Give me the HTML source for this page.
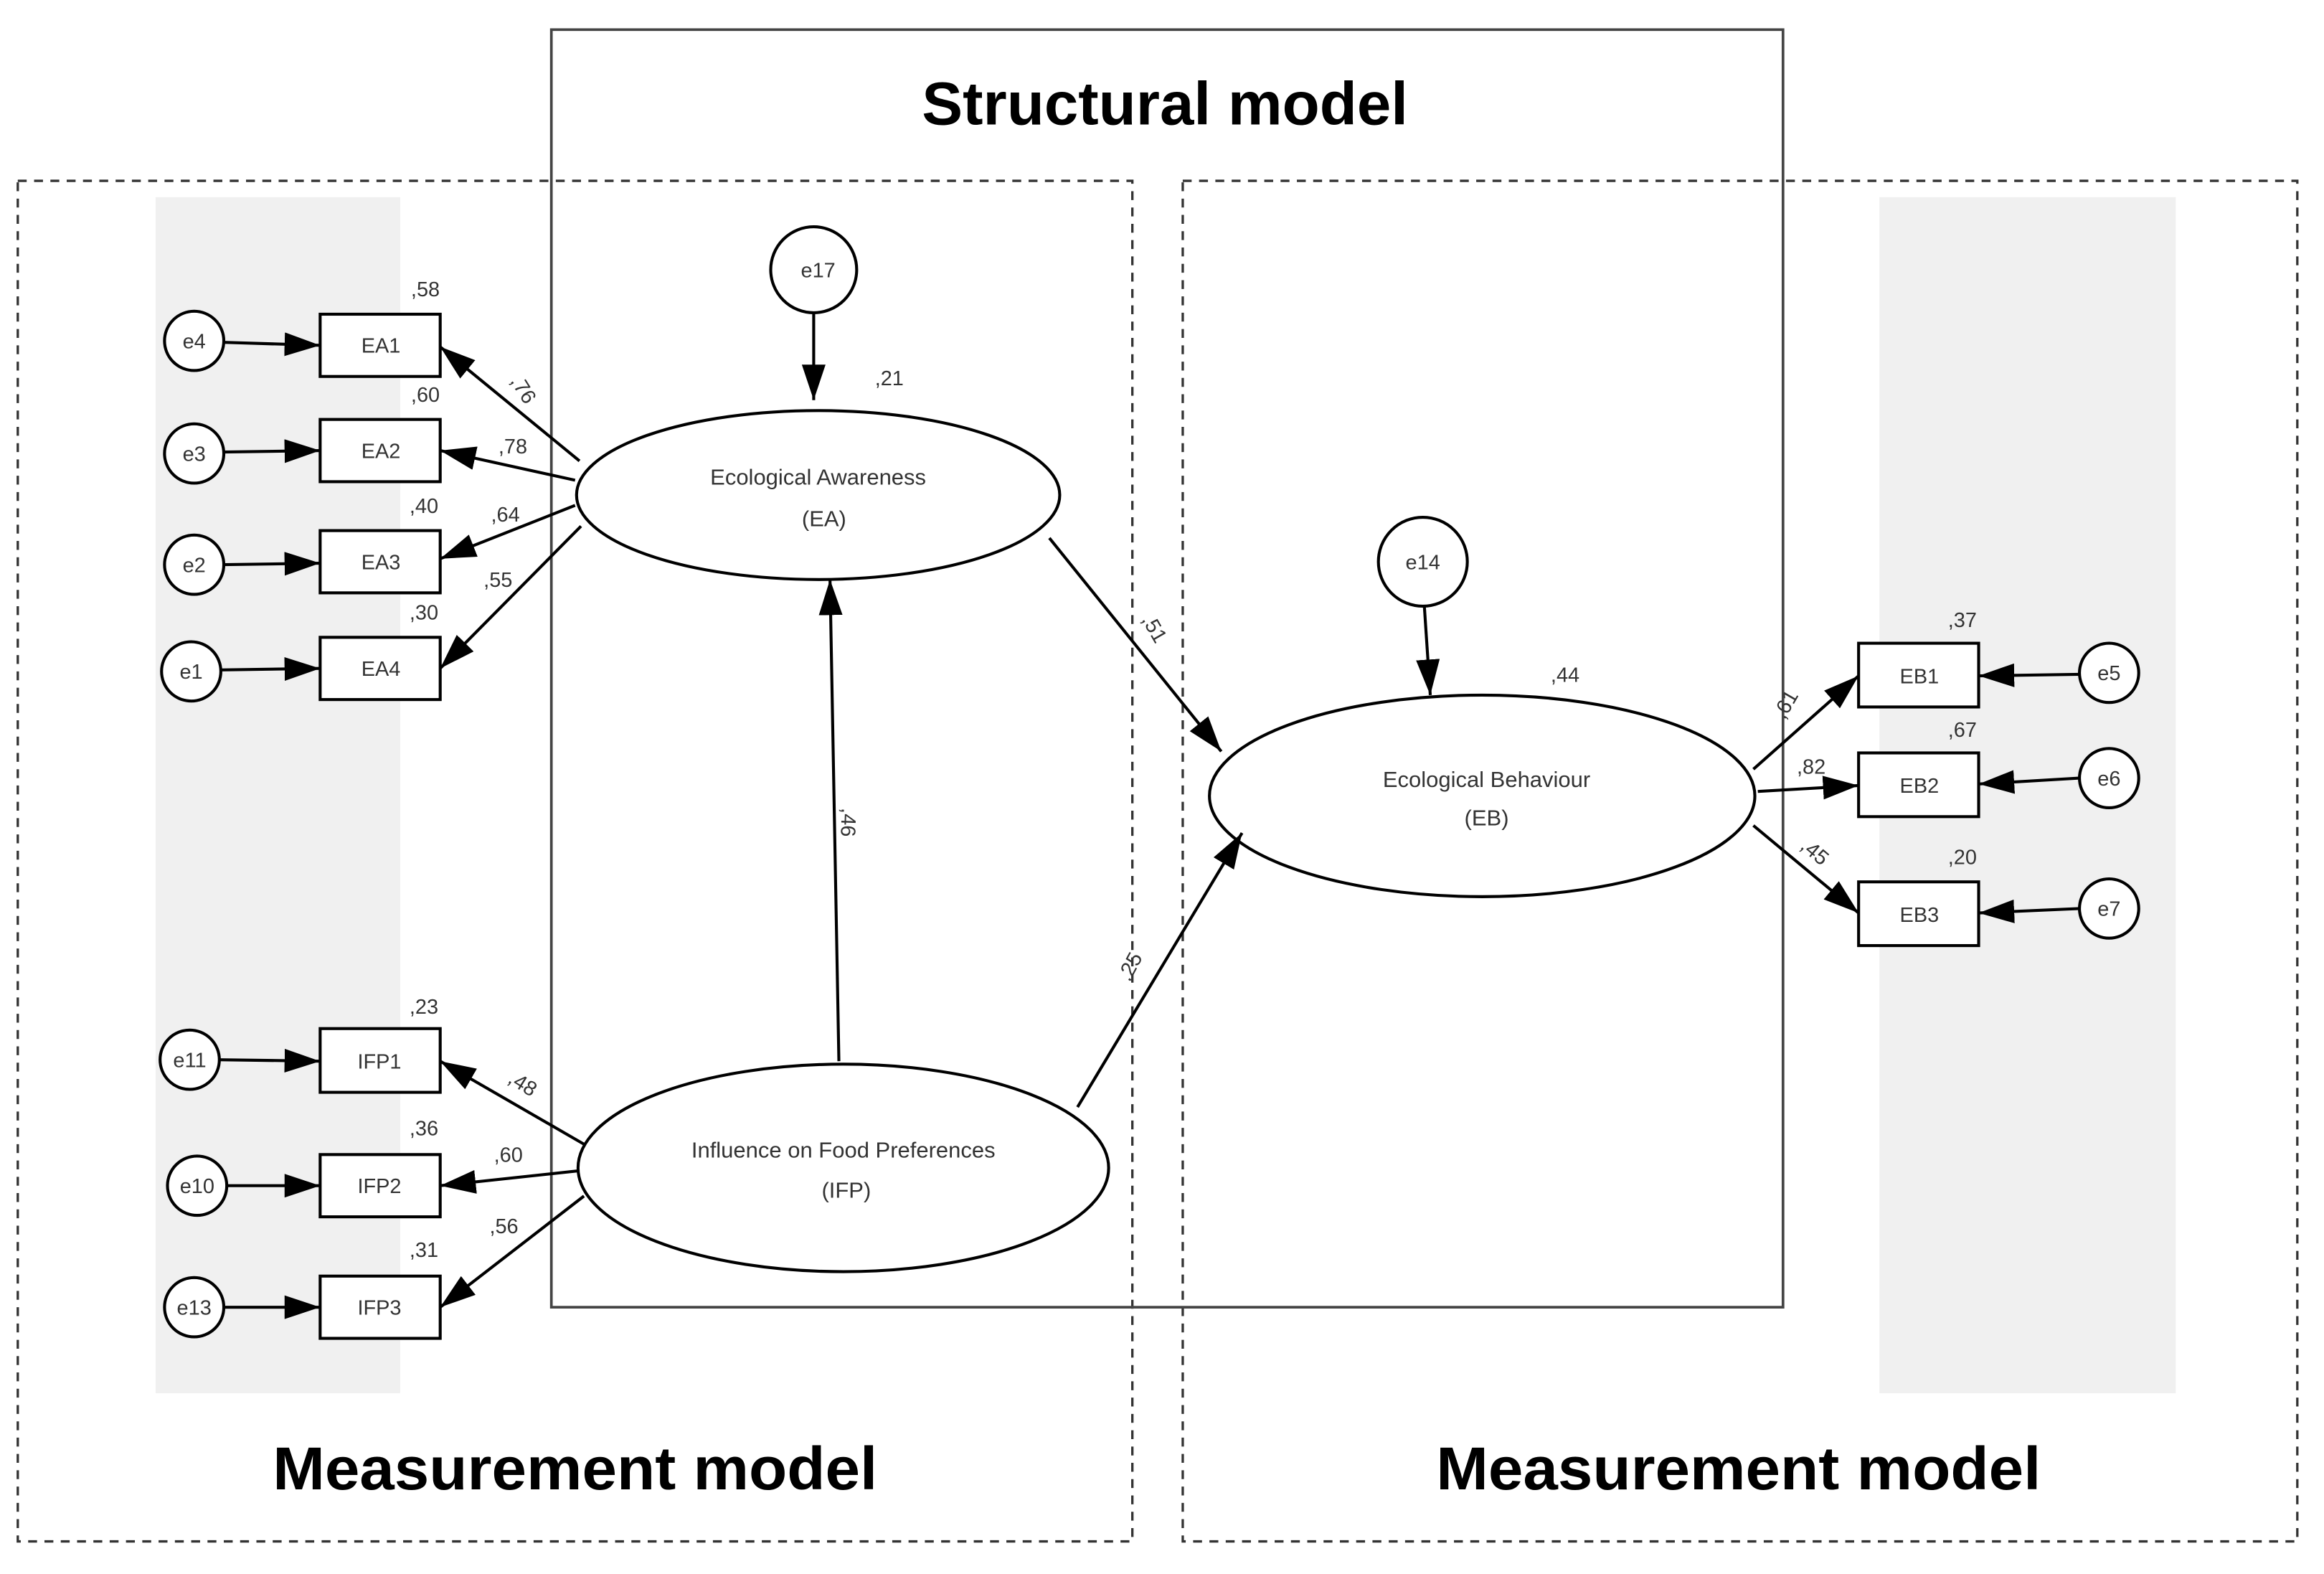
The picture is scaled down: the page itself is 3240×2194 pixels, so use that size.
<!DOCTYPE html>
<html><head><meta charset="utf-8"><style>
html,body{margin:0;padding:0;background:#fff;}
svg{display:block;}
text{font-family:"Liberation Sans",Arial,sans-serif;fill:#333;}
.s{font-size:14px;}
.l{font-size:15px;fill:#444;}
.b{font-size:41px;font-weight:bold;fill:#000;}
</style></head><body>
<svg width="3240" height="2194" viewBox="0 0 1568 1062" preserveAspectRatio="none" xmlns="http://www.w3.org/2000/svg">
<defs>
<marker id="h" viewBox="0 0 24 16" refX="24" refY="8" markerWidth="24" markerHeight="16" markerUnits="userSpaceOnUse" orient="auto"><path d="M0,0 L24,8 L0,16 z" fill="#000"/></marker>
</defs>
<rect x="105" y="133" width="165" height="807" fill="#f0f0f0"/>
<rect x="1268" y="133" width="200" height="807" fill="#f0f0f0"/>
<rect x="12" y="122" width="752" height="918" fill="none" stroke="#333" stroke-width="1.6" stroke-dasharray="6,5"/>
<rect x="798" y="122" width="752" height="918" fill="none" stroke="#333" stroke-width="1.6" stroke-dasharray="6,5"/>
<rect x="372" y="20" width="831" height="862" fill="none" stroke="#444" stroke-width="1.8"/>
<text x="786" y="84" class="b" text-anchor="middle" textLength="328" lengthAdjust="spacingAndGlyphs">Structural model</text>
<text x="388" y="1005" class="b" text-anchor="middle" textLength="408" lengthAdjust="spacingAndGlyphs">Measurement model</text>
<text x="1173" y="1005" class="b" text-anchor="middle" textLength="408" lengthAdjust="spacingAndGlyphs">Measurement model</text>

<g stroke="#000" stroke-width="2" fill="#fff">
<ellipse cx="552" cy="334" rx="163" ry="57"/>
<ellipse cx="1000" cy="537" rx="184" ry="68"/>
<ellipse cx="569" cy="788" rx="179" ry="70"/>
<circle cx="549" cy="182" r="29"/>
<circle cx="960" cy="379" r="30"/>
<rect x="216" y="212" width="81" height="42"/>
<rect x="216" y="283" width="81" height="42"/>
<rect x="216" y="358" width="81" height="42"/>
<rect x="216" y="430" width="81" height="42"/>
<rect x="216" y="694" width="81" height="43"/>
<rect x="216" y="779" width="81" height="42"/>
<rect x="216" y="861" width="81" height="42"/>
<rect x="1254" y="434" width="81" height="43"/>
<rect x="1254" y="508" width="81" height="43"/>
<rect x="1254" y="595" width="81" height="43"/>
<circle cx="131" cy="230" r="20"/><circle cx="131" cy="306" r="20"/>
<circle cx="131" cy="381" r="20"/><circle cx="129" cy="453" r="20"/>
<circle cx="128" cy="715" r="20"/><circle cx="133" cy="800" r="20"/>
<circle cx="131" cy="882" r="20"/>
<circle cx="1423" cy="454" r="20"/><circle cx="1423" cy="525" r="20"/><circle cx="1423" cy="613" r="20"/>
</g>
<g stroke="#000" stroke-width="2" fill="none" marker-end="url(#h)">
<line x1="151" y1="231" x2="216" y2="233"/>
<line x1="151" y1="305" x2="216" y2="304"/>
<line x1="151" y1="381" x2="216" y2="380"/>
<line x1="149" y1="452" x2="216" y2="451"/>
<line x1="148" y1="715" x2="216" y2="716"/>
<line x1="153" y1="800" x2="216" y2="800"/>
<line x1="151" y1="882" x2="216" y2="882"/>
<line x1="1403" y1="455" x2="1335" y2="456"/>
<line x1="1403" y1="525" x2="1335" y2="529"/>
<line x1="1403" y1="613" x2="1335" y2="616"/>
<line x1="549" y1="211" x2="549" y2="270"/>
<line x1="961" y1="409" x2="965" y2="469"/>
<line x1="391" y1="311" x2="297" y2="234"/>
<line x1="388" y1="324" x2="297" y2="304"/>
<line x1="388" y1="341" x2="297" y2="377"/>
<line x1="392" y1="355" x2="297" y2="451"/>
<line x1="394" y1="772" x2="297" y2="716"/>
<line x1="390" y1="790" x2="297" y2="800"/>
<line x1="394" y1="807" x2="297" y2="882"/>
<line x1="1183" y1="519" x2="1254" y2="456"/>
<line x1="1186" y1="534" x2="1254" y2="530"/>
<line x1="1183" y1="557" x2="1254" y2="616"/>
<line x1="708" y1="363" x2="824" y2="507"/>
<line x1="566" y1="716" x2="560" y2="391"/>
<line x1="727" y1="747" x2="838" y2="562"/>
</g>
<g class="s" text-anchor="middle">
<text x="552" y="187">e17</text><text x="960" y="384">e14</text>
<text x="131" y="235">e4</text><text x="131" y="311">e3</text><text x="131" y="386">e2</text>
<text x="129" y="458">e1</text><text x="128" y="720">e11</text><text x="133" y="805">e10</text>
<text x="131" y="887">e13</text>
<text x="1423" y="459">e5</text><text x="1423" y="530">e6</text><text x="1423" y="618">e7</text>
<text x="257" y="238">EA1</text><text x="257" y="309">EA2</text><text x="257" y="384">EA3</text><text x="257" y="456">EA4</text>
<text x="256" y="721">IFP1</text><text x="256" y="805">IFP2</text><text x="256" y="887">IFP3</text>
<text x="1295" y="461">EB1</text><text x="1295" y="535">EB2</text><text x="1295" y="622">EB3</text>
<text x="287" y="200">,58</text><text x="287" y="271">,60</text><text x="286" y="346">,40</text><text x="286" y="418">,30</text>
<text x="286" y="684">,23</text><text x="286" y="766">,36</text><text x="286" y="848">,31</text>
<text x="1324" y="423">,37</text><text x="1324" y="497">,67</text><text x="1324" y="583">,20</text>
<text x="600" y="260">,21</text><text x="1056" y="460">,44</text>
<text x="346" y="306">,78</text><text x="341" y="352">,64</text><text x="336" y="396">,55</text>
<text x="343" y="784">,60</text><text x="340" y="832">,56</text>
<text x="1222" y="522">,82</text>
</g>
<g class="s">
<text transform="translate(344,257) rotate(58)">,76</text>
<text transform="translate(342,730) rotate(32)">,48</text>
<text transform="translate(770,418) rotate(60)">,51</text>
<text transform="translate(568,545) rotate(92)">,46</text>
<text transform="translate(762,663) rotate(-62)">,25</text>
<text transform="translate(1204,486) rotate(-60)">,61</text>
<text transform="translate(1214,572) rotate(40)">,45</text>
</g>
<g class="l" text-anchor="middle">
<text x="552" y="327">Ecological Awareness</text><text x="556" y="355">(EA)</text>
<text x="1003" y="531">Ecological Behaviour</text><text x="1003" y="557">(EB)</text>
<text x="569" y="781">Influence on Food Preferences</text><text x="571" y="808">(IFP)</text>
</g>
</svg>
</body></html>
